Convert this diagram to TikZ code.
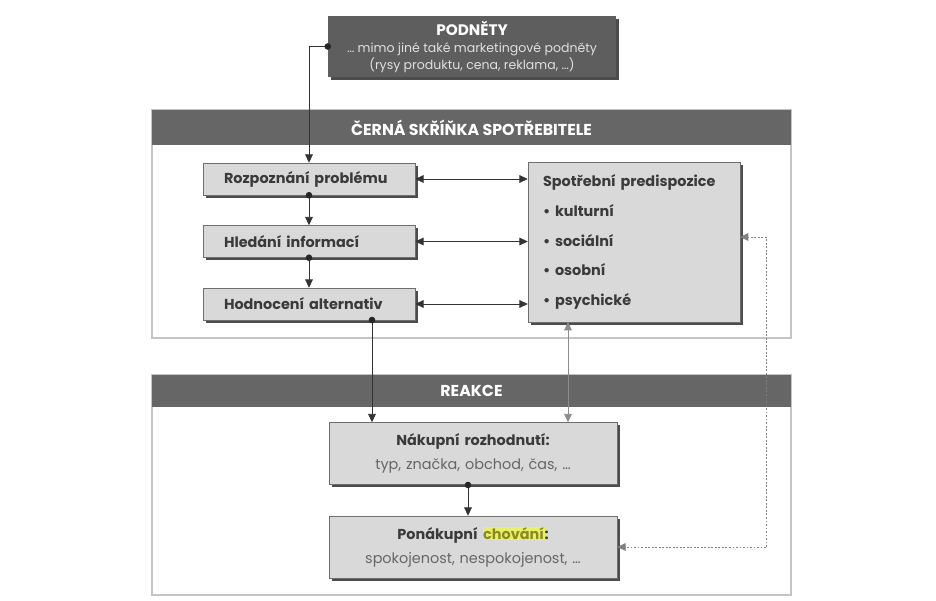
\documentclass[tikz,border=0pt]{standalone}
\usepackage{fontspec}
\setmainfont{Poppins}
\usetikzlibrary{
	arrows.meta,
	calc,
	positioning,
	shadows,
}
\definecolor{darkbar}{HTML}{666666}
\definecolor{darkbox}{HTML}{5E5E5E}
\definecolor{boxgray}{HTML}{D9D9D9}
\definecolor{edgegray}{HTML}{6E6E6E}
\definecolor{framegray}{HTML}{C4C4C4}
\definecolor{inkgray}{HTML}{3A3A3A}
\definecolor{hlyellow}{HTML}{E8F06A}
\definecolor{hltext}{HTML}{8A8A20}
\tikzset{stage box/.style={
	draw=edgegray,
	fill=boxgray,
	rectangle,
	thin,
	inner ysep=0mm,
	inner xsep=0.63cm,
	text width=5.1cm,
	minimum height=0.96cm,
	align=left,
	font=\fontsize{12.3}{14}\selectfont\bfseries,
	text=inkgray,
	drop shadow={shadow xshift=2.2pt, shadow yshift=-2.2pt, fill=black!70, opacity=1},
}}
\tikzset{result box/.style={
	stage box,
	inner xsep=0mm,
	text width=8.64cm,
	minimum height=1.86cm,
	align=center,
	font=\fontsize{12.3}{20.5}\selectfont,
}}
\tikzset{head bar/.style={
	fill=darkbar,
	draw=none,
	text=white,
	font=\fontsize{13.5}{15}\selectfont\bfseries,
}}
\tikzset{outer frame/.style={
	draw=framegray,
	line width=1.2pt,
	fill=white,
}}
\tikzset{link/.style={
	draw=black!80,
	line width=0.6pt,
}}
\tikzset{>={Triangle[length=2.5mm, width=2.3mm]}}

\begin{document}
\begin{tikzpicture}[x=0.03cm, y=-0.03cm]

\useasboundingbox (0,0) rectangle (936,601);

% frames
\draw[outer frame] (152,110) rectangle (791,338);
\draw[outer frame] (152,375) rectangle (791,595);
\node[head bar, minimum width=19.17cm, minimum height=1.05cm](box) at (471.5,127.5) {ČERNÁ SKŘÍŇKA SPOTŘEBITELE};
\node[head bar, minimum width=19.17cm, minimum height=0.96cm](reakce) at (471.5,391) {REAKCE};

% stimuli
\node[fill=darkbox, text=white, align=center, minimum width=8.64cm, minimum height=1.83cm,
	drop shadow={shadow xshift=2.2pt, shadow yshift=-2.2pt, fill=black!70, opacity=1},
	font=\fontsize{10.7}{14.5}\selectfont](pod) at (472,46.5)
	{{\fontsize{13}{14.5}\selectfont\bfseries PODNĚTY}\\
	\textcolor{white!88!black}{… mimo jiné také marketingové podněty}\\
	\textcolor{white!88!black}{(rysy produktu, cena, reklama, …)}};

% decision steps
\node[stage box](rozp) at (309,179) {Rozpoznání problému};
\node[stage box](hled) at (309,241.5) {Hledání informací};
\node[stage box](hodn) at (309,304) {Hodnocení alternativ};

\node[stage box, inner xsep=0.45cm, text width=5.46cm, minimum height=4.8cm,
	font=\fontsize{12.3}{25.5}\selectfont\bfseries](spot) at (634,242)
	{Spotřební predispozice\\
	\textbullet\ kulturní\\
	\textbullet\ sociální\\
	\textbullet\ osobní\\
	\textbullet\ psychické};

% reactions
\node[result box](nak) at (473,453.5)
	{\textbf{Nákupní rozhodnutí:}\\ \textcolor{black!60}{typ, značka, obchod, čas, …}};
\node[result box](pon) at (473,547)
	{\textbf{Ponákupní {\setlength{\fboxsep}{0.5pt}\colorbox{hlyellow}{\textcolor{hltext}{chování}}}:}\\
	\textcolor{black!60}{spokojenost, nespokojenost, …}};

% dot -> arrow
\newcommand{\dotarrow}[2]{
\draw[link, ->] (#1) -- (#2);
\fill[black!85] (#1) circle (3.3);
}

% stimuli -> steps
\draw[link, ->] (pod.west) -| (rozp.north);
\fill[black!85] (pod.west) circle (3.3);

\dotarrow{rozp.south}{hled.north}
\dotarrow{hled.south}{hodn.north}

% steps <-> predispositions
\draw[link, <->] (rozp.east) -- (rozp.east -| spot.west);
\draw[link, <->] (hled.east) -- (hled.east -| spot.west);
\draw[link, <->] (hodn.east) -- (hodn.east -| spot.west);

% to the reactions
\coordinate (hodnout) at (372,320);
\dotarrow{hodnout}{hodnout |- nak.north}

\coordinate (spotout) at (568,322);
\draw[draw=black!45, line width=0.6pt, <->] (spotout) -- (spotout |- nak.north);

\coordinate (nakout) at (468,485);
\dotarrow{nakout}{nakout |- pon.north}

% feedback
\coordinate (spotback) at (740,237);
\coordinate (turn) at (766,547);
\draw[draw=black!50, line width=0.8pt, dash pattern=on 1.6pt off 1.4pt, ->] (turn) |- (spotback);
\draw[draw=black!50, line width=0.8pt, dash pattern=on 1.6pt off 1.4pt, ->] (turn) -- (pon.east);

\end{tikzpicture}
\end{document}
